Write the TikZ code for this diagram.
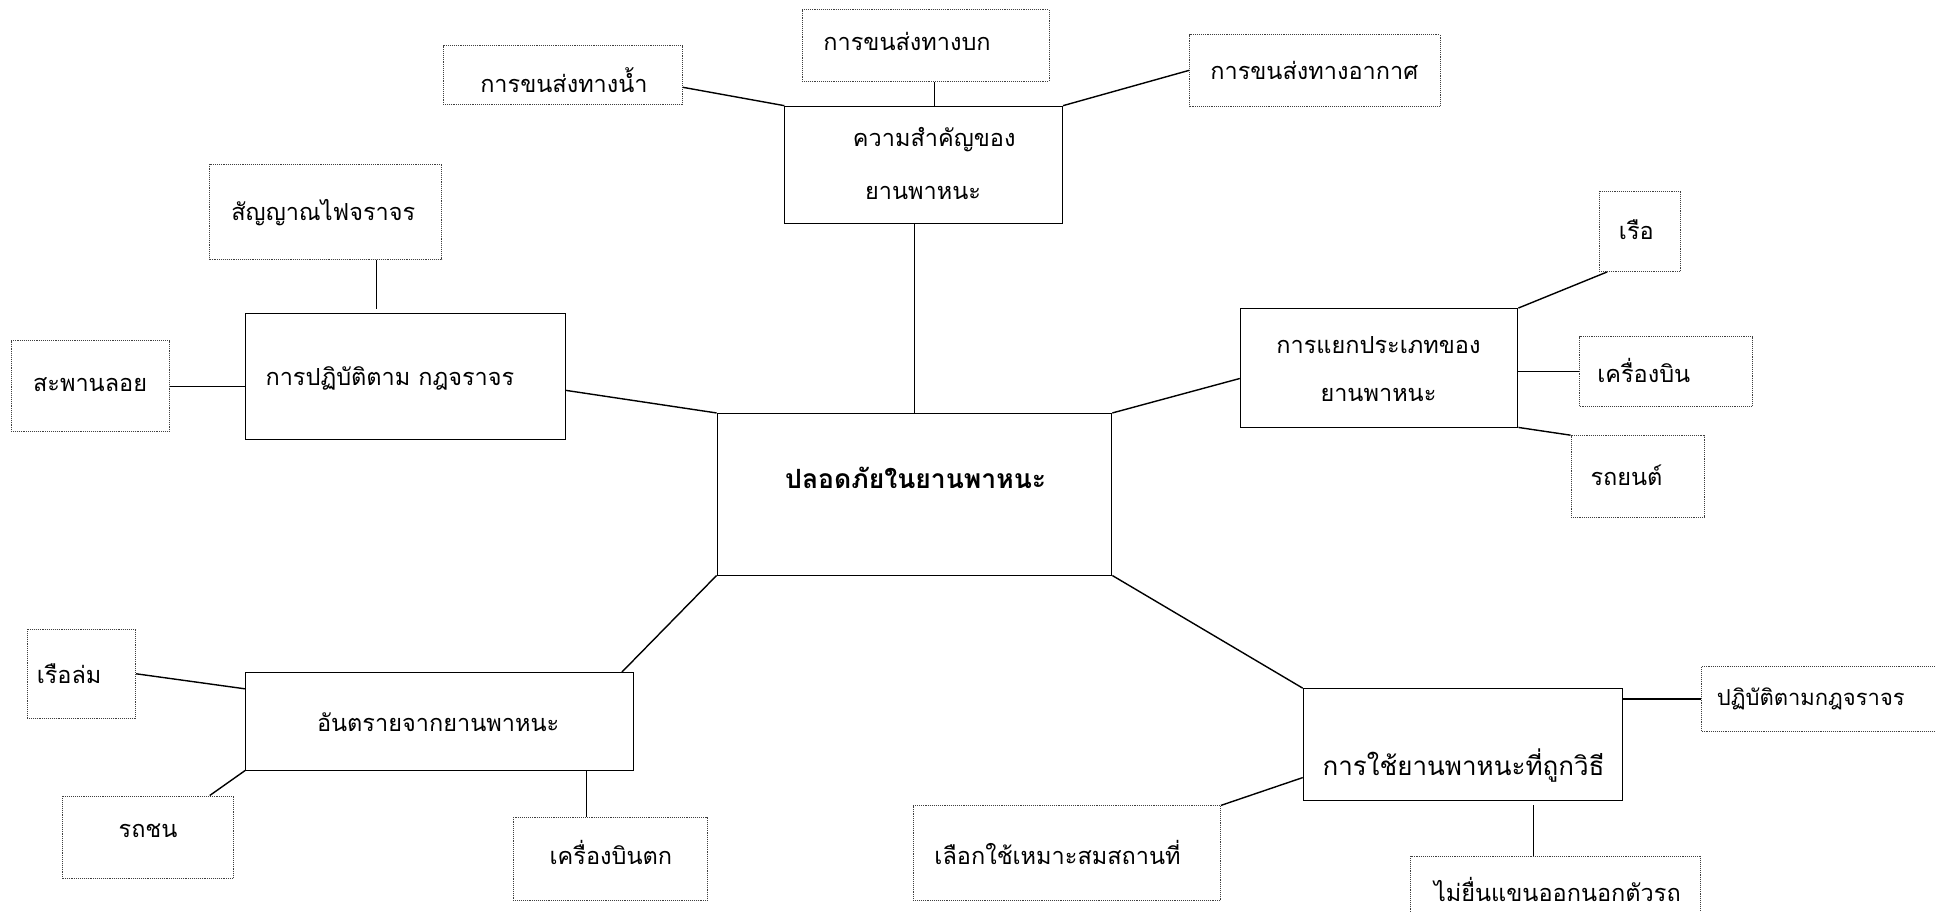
\documentclass[tikz,border=0pt]{standalone}
\usepackage{fontspec}
\setmainfont[Script=Thai]{Loma}
\usetikzlibrary{fit,calc}
\begin{document}
\begin{tikzpicture}[x=1.234pt,y=-1.234pt,
  solidbox/.style={draw=black, line width=0.9pt, inner sep=0pt, fit={#1}},
  dotbox/.style={draw=black!75, densely dotted, line width=0.9pt, inner sep=0pt, fit={#1}},
  txt/.style={inner sep=0pt, font=\fontsize{23.5}{28}\selectfont, align=center},
  bigtxt/.style={inner sep=0pt, font=\fontsize{26}{31}\selectfont, align=center},
  boldtxt/.style={inner sep=0pt, font=\fontsize{26.5}{32}\selectfont\bfseries, align=center},
  conn/.style={draw=black, line width=1.4pt}]
\useasboundingbox (0,0) rectangle (1568,739);
\clip (0,0) rectangle (1568,739);
% boxes
\node[solidbox={(581,335) (901,466)}] (ctr) {};
\node[solidbox={(636,86) (861,181)}] (imp) {};
\node[dotbox={(650,8) (850,66)}] (land) {};
\node[dotbox={(359,37) (553,85)}] (water) {};
\node[dotbox={(964,28) (1167,86)}] (air) {};
\node[dotbox={(170,133) (358,210)}] (signal) {};
\node[solidbox={(199,254) (458,356)}] (rule) {};
\node[dotbox={(9,276) (137,350)}] (bridge) {};
\node[dotbox={(1296,155) (1362,220)}] (boat) {};
\node[solidbox={(1005,250) (1230,346)}] (cls) {};
\node[dotbox={(1280,273) (1420,329)}] (plane) {};
\node[dotbox={(1273,353) (1381,419)}] (car) {};
\node[dotbox={(22,510) (110,582)}] (sink) {};
\node[solidbox={(199,545) (513,624)}] (danger) {};
\node[dotbox={(51,645) (189,712)}] (crash) {};
\node[dotbox={(416,662) (573,730)}] (fall) {};
\node[solidbox={(1056,558) (1315,649)}] (use) {};
\node[dotbox={(1379,540) (1580,593)}] (obey) {};
\node[dotbox={(740,653) (989,730)}] (choose) {};
\node[dotbox={(1143,694) (1378,760)}] (arm) {};
% texts
\node[boldtxt] (tctr) at (742,387) {ปลอดภัยในยานพาหนะ};
\node[txt] (timp1) at (757,113) {ความสำคัญของ};
\node[txt] (timp2) at (748,156) {ยานพาหนะ};
\node[txt] (tland) at (735,34) {การขนส่งทางบก};
\node[txt] (twater) at (457,65) {การขนส่งทางน้ำ};
\node[txt] (tair) at (1065,57) {การขนส่งทางอากาศ};
\node[txt] (tsignal) at (262,172) {สัญญาณไฟจราจร};
\node[txt] (trule) at (316,307) {การปฏิบัติตาม กฎจราจร};
\node[txt] (tbridge) at (73,312) {สะพานลอย};
\node[txt] (tboat) at (1326,186) {เรือ};
\node[txt] (tcls1) at (1117,280) {การแยกประเภทของ};
\node[txt] (tcls2) at (1117,320) {ยานพาหนะ};
\node[txt] (tplane) at (1332,300) {เครื่องบิน};
\node[txt] (tcar) at (1318,385) {รถยนต์};
\node[txt] (tsink) at (56,546) {เรือล่ม};
\node[txt] (tdanger) at (355,585) {อันตรายจากยานพาหนะ};
\node[txt] (tcrash) at (120,673) {รถชน};
\node[txt] (tfall) at (495,691) {เครื่องบินตก};
\node[bigtxt] (tuse) at (1186,620) {การใช้ยานพาหนะที่ถูกวิธี};
\node[txt, font=\fontsize{22}{26}\selectfont, anchor=west] (tobey) at (1391,566) {ปฏิบัติตามกฎจราจร};
\node[txt] (tchoose) at (857,691) {เลือกใช้เหมาะสมสถานที่};
\node[txt] (tarm) at (1262,721) {ไม่ยื่นแขนออกนอกตัวรถ};
% connector anchor points
\coordinate (landc) at ($(land.south west)!0.535!(land.south east)$);
\coordinate (waterc) at ($(water.north east)!0.7!(water.south east)$);
\coordinate (signalc) at ($(signal.south west)!0.718!(signal.south east)$);
\coordinate (rulec) at ($(rule.north east)!0.61!(rule.south east)$);
\coordinate (clsc) at ($(cls.north west)!0.59!(cls.south west)$);
\coordinate (boatc) at ($(boat.south west)!0.1!(boat.south east)$);
\coordinate (dangerc) at ($(danger.north west)!0.97!(danger.north east)$);
\coordinate (dangerl) at ($(danger.north west)!0.17!(danger.south west)$);
\coordinate (crashc) at ($(crash.north west)!0.86!(crash.north east)$);
\coordinate (fallc) at ($(danger.south west)!0.879!(danger.south east)$);
\coordinate (usel) at ($(use.north west)!0.79!(use.south west)$);
\coordinate (usec) at ($(use.south west)!0.72!(use.south east)$);
% connectors
\draw[conn] (ctr.north |- imp.south) -- (ctr.north);
\draw[conn] (waterc) -- (imp.north west);
\draw[conn] (landc) -- (landc |- imp.north);
\draw[conn] (air.west) -- (imp.north east);
\draw[conn] (signalc) -- ([yshift=4]signalc |- rule.north);
\draw[conn] (bridge.east) -- (bridge.east -| rule.west);
\draw[conn] (rulec) -- (ctr.north west);
\draw[conn] (ctr.north east) -- (clsc);
\draw[conn] (cls.north east) -- (boatc);
\draw[conn] (plane.west -| cls.east) -- (plane.west);
\draw[conn] (cls.south east) -- (car.north west);
\draw[conn] (ctr.south west) -- (dangerc);
\draw[conn] (sink.east) -- (dangerl);
\draw[conn] (danger.south west) -- (crashc);
\draw[conn] (fallc) -- (fallc |- fall.north);
\draw[conn] (ctr.south east) -- (use.north west);
\draw[conn] (obey.west -| use.east) -- (obey.west);
\draw[conn] (usel) -- (choose.north east);
\draw[conn] ([yshift=-4]usec) -- (usec |- arm.north);
\end{tikzpicture}
\end{document}
